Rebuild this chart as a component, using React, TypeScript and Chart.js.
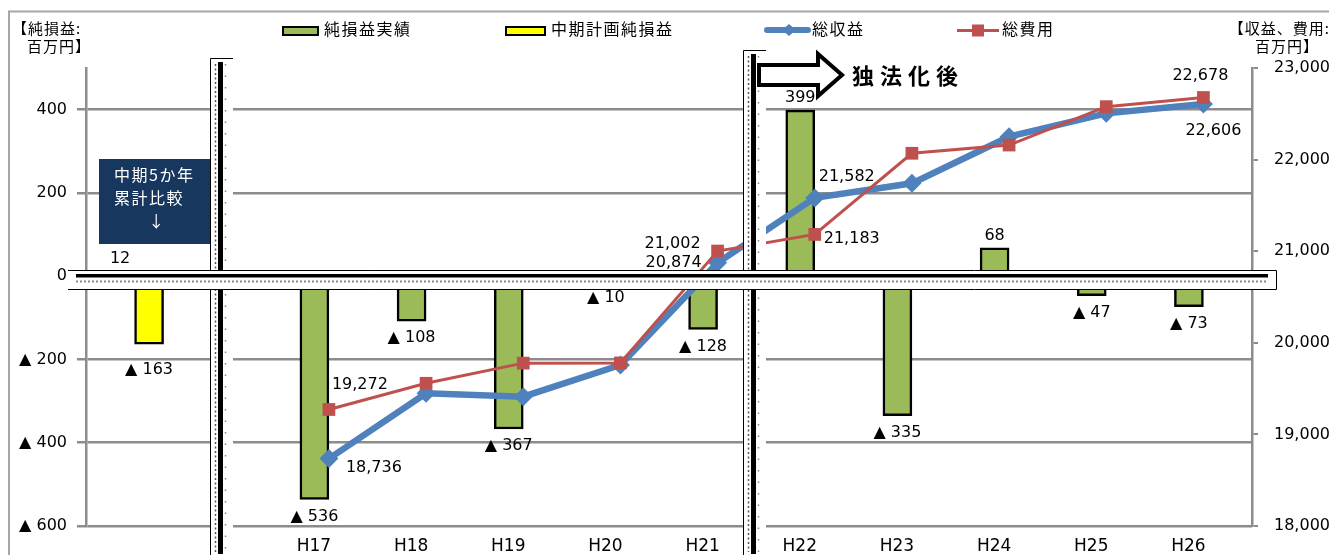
import React, { useEffect, useRef } from 'react';
import { Chart, registerables } from 'chart.js';

Chart.register(...registerables);

// ---------------- data ----------------
const categories = ['', '', 'H17', 'H18', 'H19', 'H20', 'H21', 'H22', 'H23', 'H24', 'H25', 'H26'];
const netProfitActual = [12, null, -536, -108, -367, -10, -128, 399, -335, 68, -47, -73];
const netProfitPlan = [-163, null, null, null, null, null, null, null, null, null, null, null];
const totalRevenue = [null, null, 18736, 19449, 19412, 19758, 20874, 21582, 21741, 22250, 22505, 22606];
const totalExpense = [null, null, 19272, 19558, 19778, 19780, 21002, 21183, 22069, 22159, 22578, 22678];
const leftTickValues = [-600, -400, -200, 0, 200, 400];
const rightTickValues = [18000, 19000, 20000, 21000, 22000, 23000];
const legendLabels = ['純損益実績', '中期計画純損益', '総収益', '総費用'];
const leftAxisTitle = ['【純損益:', '百万円】'];
const rightAxisTitle = ['【収益、費用:', '百万円】'];
const noteLines = ['中期5か年', '累計比較', '↓'];
const afterText = '独法化後';
const revenueLabeled = [2, 6, 7, 11];
const expenseLabeled = [2, 6, 7, 11];

// ---------------- styles ----------------
const GREEN = '#9BBB59';
const YELLOW = '#FFFF00';
const BLUE = '#4F81BD';
const RED = '#C0504D';
const GRID = '#8C8C8C';
const NAVY = '#17375E';
const FONT_NUM = '"DejaVu Sans", "Noto Sans CJK JP", sans-serif';
const FONT_JP = '"Noto Sans CJK JP", "DejaVu Sans", sans-serif';

// label offsets (dx, dy, align) relative to the point
const revenueLabelStyle: Record<number, [number, number, CanvasTextAlign]> = {
  2: [17, 9, 'left'],
  6: [-16, 0, 'right'],
  7: [4, -21, 'left'],
  11: [10, 27, 'center'],
};
const expenseLabelStyle: Record<number, [number, number, CanvasTextAlign]> = {
  2: [3, -25, 'left'],
  6: [-17, -7, 'right'],
  7: [9, 4, 'left'],
  11: [-3, -22, 'center'],
};

const fmt = (v: number) =>
  v < 0 ? '▲ ' + Math.abs(v).toLocaleString('en-US') : v.toLocaleString('en-US');

function setSpacing(ctx: any, s: string) {
  if ('letterSpacing' in ctx) ctx.letterSpacing = s;
}

function drawSeparator(ctx: CanvasRenderingContext2D, x: number, top: number, bottom: number) {
  ctx.setLineDash([]);
  ctx.fillStyle = '#fff';
  ctx.fillRect(x, top, 23, bottom - top);
  ctx.strokeStyle = '#000';
  ctx.lineWidth = 1;
  ctx.beginPath();
  ctx.moveTo(x + 0.5, bottom);
  ctx.lineTo(x + 0.5, top + 0.5);
  ctx.lineTo(x + 23, top + 0.5);
  ctx.stroke();
  ctx.fillStyle = '#000';
  ctx.fillRect(x + 8, top + 4, 5, bottom - top - 5);
  ctx.strokeStyle = '#555';
  ctx.lineWidth = 1.5;
  ctx.setLineDash([2, 2.5]);
  ctx.beginPath();
  ctx.moveTo(x + 5.5, top + 6);
  ctx.lineTo(x + 5.5, bottom - 3);
  ctx.stroke();
  ctx.strokeStyle = '#888';
  ctx.setLineDash([1.5, 10]);
  ctx.beginPath();
  ctx.moveTo(x + 15.5, top + 6);
  ctx.lineTo(x + 15.5, bottom - 3);
  ctx.stroke();
  ctx.setLineDash([]);
}

function drawBand(ctx: CanvasRenderingContext2D) {
  ctx.setLineDash([]);
  ctx.fillStyle = '#fff';
  ctx.fillRect(68, 270, 1209, 20);
  ctx.strokeStyle = '#000';
  ctx.lineWidth = 1;
  ctx.beginPath();
  ctx.moveTo(68, 270.5);
  ctx.lineTo(1276.5, 270.5);
  ctx.lineTo(1276.5, 289.5);
  ctx.lineTo(68, 289.5);
  ctx.stroke();
  ctx.fillStyle = '#000';
  ctx.fillRect(76, 274, 1192, 3.5);
  ctx.strokeStyle = '#8a8a8a';
  ctx.lineWidth = 2;
  ctx.setLineDash([2, 2]);
  ctx.beginPath();
  ctx.moveTo(76, 281.5);
  ctx.lineTo(1268, 281.5);
  ctx.stroke();
  ctx.setLineDash([]);
}

const overlayPlugin = {
  id: 'overlay',
  afterDraw(chart: any) {
    const ctx: CanvasRenderingContext2D = chart.ctx;
    ctx.save();

    // outer frame
    ctx.strokeStyle = '#A6A6A6';
    ctx.lineWidth = 2;
    ctx.beginPath();
    ctx.moveTo(9, 555);
    ctx.lineTo(9, 11.5);
    ctx.lineTo(1329, 11.5);
    ctx.stroke();

    // separators & axis break band
    drawSeparator(ctx, 210, 58, 555);
    drawSeparator(ctx, 743, 50, 555);
    drawBand(ctx);

    // hollow arrow + text
    ctx.fillStyle = '#fff';
    ctx.strokeStyle = '#000';
    ctx.lineWidth = 4;
    ctx.lineJoin = 'miter';
    ctx.beginPath();
    ctx.moveTo(759, 65);
    ctx.lineTo(818, 65);
    ctx.lineTo(818, 54);
    ctx.lineTo(842, 75);
    ctx.lineTo(818, 96);
    ctx.lineTo(818, 85);
    ctx.lineTo(759, 85);
    ctx.closePath();
    ctx.fill();
    ctx.stroke();
    ctx.fillStyle = '#000';
    ctx.font = 'bold 22px ' + FONT_JP;
    setSpacing(ctx, '6px');
    ctx.textAlign = 'left';
    ctx.textBaseline = 'middle';
    ctx.fillText(afterText, 852, 76);
    setSpacing(ctx, '0px');

    // note box
    ctx.fillStyle = NAVY;
    ctx.fillRect(99, 159, 111, 85);
    ctx.fillStyle = '#fff';
    ctx.font = '16px ' + FONT_JP;
    setSpacing(ctx, '1.5px');
    ctx.textAlign = 'left';
    ctx.fillText(noteLines[0], 114, 175);
    ctx.fillText(noteLines[1], 114, 198);
    ctx.textAlign = 'center';
    ctx.fillText(noteLines[2], 157, 221);
    setSpacing(ctx, '0px');

    // bar value labels
    ctx.font = '16px ' + FONT_NUM;
    ctx.fillStyle = '#000';
    ctx.textAlign = 'center';
    ctx.textBaseline = 'middle';
    const barSets = [
      { idx: 2, values: netProfitActual },
      { idx: 3, values: netProfitPlan },
    ];
    barSets.forEach(({ idx, values }) => {
      const meta = chart.getDatasetMeta(idx);
      meta.data.forEach((el: any, i: number) => {
        const v = values[i];
        if (v === null || v === undefined) return;
        const y = v >= 0 ? el.y - 12 : el.y + (idx === 3 ? 26 : 17);
        ctx.fillText(fmt(v), el.x, y);
      });
    });

    // line value labels
    const lineSets = [
      { idx: 1, values: totalRevenue, which: revenueLabeled, style: revenueLabelStyle },
      { idx: 0, values: totalExpense, which: expenseLabeled, style: expenseLabelStyle },
    ];
    lineSets.forEach(({ idx, values, which, style }) => {
      const meta = chart.getDatasetMeta(idx);
      which.forEach((i) => {
        const el = meta.data[i];
        const v = values[i];
        if (!el || v === null) return;
        const [dx, dy, align] = style[i];
        ctx.textAlign = align;
        ctx.fillText(fmt(v as number), el.x + dx, el.y + dy);
      });
    });

    // legend
    ctx.font = '16px ' + FONT_JP;
    setSpacing(ctx, '1.5px');
    ctx.textAlign = 'left';
    ctx.textBaseline = 'middle';
    ctx.lineWidth = 2;
    ctx.strokeStyle = '#000';
    ctx.fillStyle = GREEN;
    ctx.fillRect(283, 27, 35, 8);
    ctx.strokeRect(283, 27, 35, 8);
    ctx.fillStyle = '#000';
    ctx.fillText(legendLabels[0], 324, 29);

    ctx.fillStyle = YELLOW;
    ctx.fillRect(506, 27, 39, 8);
    ctx.strokeRect(506, 27, 39, 8);
    ctx.fillStyle = '#000';
    ctx.fillText(legendLabels[1], 551, 29);

    ctx.strokeStyle = BLUE;
    ctx.lineWidth = 6;
    ctx.lineCap = 'round';
    ctx.beginPath();
    ctx.moveTo(767, 30);
    ctx.lineTo(808, 30);
    ctx.stroke();
    ctx.fillStyle = BLUE;
    ctx.beginPath();
    ctx.moveTo(789, 24);
    ctx.lineTo(796, 30);
    ctx.lineTo(789, 36);
    ctx.lineTo(782, 30);
    ctx.closePath();
    ctx.fill();
    ctx.fillStyle = '#000';
    ctx.fillText(legendLabels[2], 812, 29);

    ctx.strokeStyle = RED;
    ctx.lineWidth = 3;
    ctx.lineCap = 'butt';
    ctx.beginPath();
    ctx.moveTo(957, 30.5);
    ctx.lineTo(999, 30.5);
    ctx.stroke();
    ctx.fillStyle = RED;
    ctx.fillRect(972, 24.5, 12, 12);
    ctx.fillStyle = '#000';
    ctx.fillText(legendLabels[3], 1002, 29);

    // axis titles
    ctx.font = '15px ' + FONT_JP;
    setSpacing(ctx, '1px');
    ctx.textAlign = 'left';
    ctx.fillText(leftAxisTitle[0], 12, 28);
    ctx.fillText(leftAxisTitle[1], 27, 46);
    ctx.textAlign = 'right';
    ctx.fillText(rightAxisTitle[0], 1330, 28);
    ctx.fillText(rightAxisTitle[1], 1319, 46);
    setSpacing(ctx, '0px');

    ctx.restore();
  },
};

export default function App() {
  const ref = useRef<HTMLCanvasElement>(null);

  useEffect(() => {
    const canvas = ref.current;
    if (!canvas) return;
    const chart = new Chart(canvas, {
      type: 'bar',
      data: {
        labels: categories,
        datasets: [
          {
            type: 'line',
            label: legendLabels[3],
            data: totalExpense,
            yAxisID: 'y1',
            borderColor: RED,
            backgroundColor: RED,
            borderWidth: 3,
            pointStyle: 'rect',
            pointRadius: 9,
            pointBackgroundColor: RED,
            pointBorderWidth: 0,
            tension: 0,
            order: 0,
          } as any,
          {
            type: 'line',
            label: legendLabels[2],
            data: totalRevenue,
            yAxisID: 'y1',
            borderColor: BLUE,
            backgroundColor: BLUE,
            borderWidth: 6.5,
            pointStyle: 'rectRot',
            pointRadius: 9.5,
            pointBackgroundColor: BLUE,
            pointBorderWidth: 0,
            tension: 0,
            order: 1,
          } as any,
          {
            type: 'bar',
            label: legendLabels[0],
            data: netProfitActual,
            yAxisID: 'y',
            backgroundColor: GREEN,
            borderColor: '#000',
            borderWidth: 2.5,
            borderSkipped: false,
            barThickness: 29,
            order: 2,
          } as any,
          {
            type: 'bar',
            label: legendLabels[1],
            data: netProfitPlan,
            yAxisID: 'y',
            backgroundColor: YELLOW,
            borderColor: '#000',
            borderWidth: 2.5,
            borderSkipped: false,
            barThickness: 29,
            order: 2,
          } as any,
        ],
      },
      options: {
        responsive: false,
        animation: false,
        devicePixelRatio: 1,
        layout: { padding: { top: 68, left: 0, right: 0, bottom: 0 } },
        plugins: {
          legend: { display: false },
          tooltip: { enabled: false },
          title: { display: false },
        },
        scales: {
          x: {
            type: 'category',
            offset: true,
            afterFit: (s: any) => {
              s.height = 29;
            },
            grid: { display: false, drawTicks: false },
            border: { display: false },
            ticks: {
              color: '#000',
              font: { family: FONT_NUM, size: 17 },
              padding: 10,
              labelOffset: -15,
              autoSkip: false,
              maxRotation: 0,
            },
          },
          y: {
            type: 'linear',
            position: 'left',
            min: -600,
            max: 500,
            afterBuildTicks: (s: any) => {
              s.ticks = leftTickValues.map((v) => ({ value: v }));
            },
            afterFit: (s: any) => {
              s.width = 86;
            },
            grid: { color: GRID, lineWidth: 2.5, drawTicks: true, tickLength: 9 },
            border: { display: true, color: GRID, width: 2.5 },
            ticks: {
              color: '#000',
              padding: 10,
              font: { family: FONT_NUM, size: 16 },
              callback: (v: any) => fmt(Number(v)),
            },
          },
          y1: {
            type: 'linear',
            position: 'right',
            min: 18000,
            max: 23000,
            afterBuildTicks: (s: any) => {
              s.ticks = rightTickValues.map((v) => ({ value: v }));
            },
            afterFit: (s: any) => {
              s.width = 77;
            },
            grid: { drawOnChartArea: false, drawTicks: true, tickLength: 6, color: GRID, lineWidth: 2 },
            border: { display: true, color: GRID, width: 2.5 },
            ticks: {
              color: '#000',
              padding: 16,
              font: { family: FONT_NUM, size: 16 },
              callback: (v: any) => Number(v).toLocaleString('en-US'),
            },
          },
        },
      },
      plugins: [overlayPlugin],
    } as any);
    return () => chart.destroy();
  }, []);

  return (
    <div
      style={{
        position: 'fixed',
        left: 0,
        top: 0,
        width: 1329,
        height: 555,
        background: '#fff',
        overflow: 'hidden',
      }}
    >
      <canvas
        ref={ref}
        width={1329}
        height={555}
        style={{ width: '1329px', height: '555px', display: 'block' }}
      />
    </div>
  );
}
